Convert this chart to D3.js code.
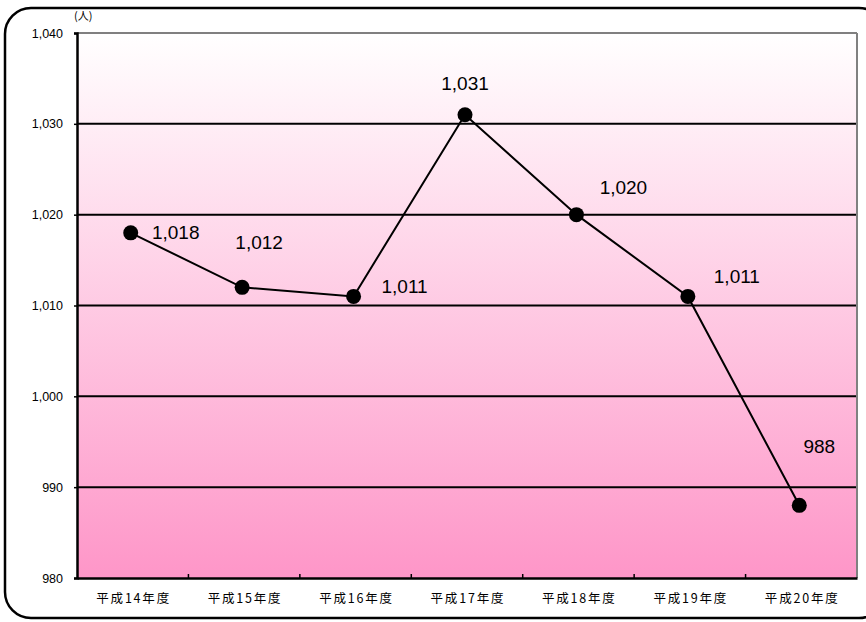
<!DOCTYPE html>
<html><head><meta charset="utf-8">
<script src="https://cdn.jsdelivr.net/npm/d3@7"></script>
<style>body{margin:0;background:#fff}svg{display:block}</style>
</head><body>
<svg id="c" width="866" height="622"></svg>
<script>
const categories = ["平成14年度","平成15年度","平成16年度","平成17年度","平成18年度","平成19年度","平成20年度"];
const values = [1018, 1012, 1011, 1031, 1020, 1011, 988];
const valueLabels = ["1,018","1,012","1,011","1,031","1,020","1,011","988"];
const yTicks = [980, 990, 1000, 1010, 1020, 1030, 1040];
const unitLabel = "(人)";
// label offsets (layout only)
const labelDx = [45, 17, 51, 0, 47, 49, 20];
const labelDy = [0, -45, -10, -31, -27, -20, -59];

const svg = d3.select("#c");
const L = 77, R = 857, T = 33, B = 578;
const fontJP = "'Noto Sans CJK JP', 'Noto Sans', sans-serif";
const fontLat = "'Liberation Sans', Arial, sans-serif";

const defs = svg.append("defs");
const g = defs.append("linearGradient").attr("id","bg").attr("x1",0).attr("y1",0).attr("x2",0).attr("y2",1);
g.append("stop").attr("offset","0%").attr("stop-color","#ffffff");
g.append("stop").attr("offset","100%").attr("stop-color","#fe96c8");

// outer rounded frame
svg.append("rect").attr("x",5).attr("y",8).attr("width",880).attr("height",610)
  .attr("rx",26).attr("ry",26).attr("fill","#fff").attr("stroke","#000").attr("stroke-width",2.5);

const x = d3.scaleBand().domain(categories).range([L, R]);
const y = d3.scaleLinear().domain([980, 1040]).range([B, T]);

svg.append("rect").attr("x",L).attr("y",T).attr("width",R-L).attr("height",B-T).attr("fill","url(#bg)");

// gridlines
svg.append("g").selectAll("line").data(yTicks.filter(v=>v>980 && v<1040)).join("line")
  .attr("x1",L).attr("x2",R).attr("y1",d=>y(d)).attr("y2",d=>y(d))
  .attr("stroke","#000").attr("stroke-width",2);
// top & right border gray
svg.append("line").attr("x1",L).attr("x2",R).attr("y1",y(1040)).attr("y2",y(1040)).attr("stroke","#808080").attr("stroke-width",2);
svg.append("line").attr("x1",R).attr("x2",R).attr("y1",T).attr("y2",B).attr("stroke","#808080").attr("stroke-width",2);

// y axis
const yAxis = svg.append("g").attr("transform",`translate(${L},0)`)
  .call(d3.axisLeft(y).tickValues(yTicks).tickSize(3).tickPadding(11).tickFormat(d3.format(",")));
yAxis.select(".domain").attr("stroke","#000").attr("stroke-width",2.5);
yAxis.selectAll(".tick line").attr("stroke","#000").attr("stroke-width",1.5);
yAxis.selectAll("text").attr("font-family",fontLat).attr("font-size",12.5).attr("fill","#000");

// x axis
const xAxis = svg.append("g").attr("transform",`translate(0,${B})`)
  .call(d3.axisBottom(x).tickSize(0).tickPadding(16));
xAxis.select(".domain").attr("stroke","#000").attr("stroke-width",2.5);
xAxis.selectAll("text").attr("font-family",fontJP).attr("font-size",12.5)
  .attr("letter-spacing","1.8px").attr("dx","0.9").attr("fill","#000");
// category boundary ticks (inside)
svg.append("g").selectAll("line").data(categories.slice(1)).join("line")
  .attr("x1",d=>x(d)).attr("x2",d=>x(d)).attr("y1",B).attr("y2",B-4)
  .attr("stroke","#000").attr("stroke-width",1.5);

// unit label
svg.append("text").attr("x",74).attr("y",20).attr("font-family",fontJP).attr("font-size",11).text(unitLabel);

// line
const cx = d => x(d) + x.bandwidth()/2 - 2;
const line = d3.line().x((d,i)=>cx(categories[i])).y(d=>y(d));
svg.append("path").datum(values).attr("d",line).attr("fill","none").attr("stroke","#000").attr("stroke-width",2);

svg.append("g").selectAll("circle").data(values).join("circle")
  .attr("cx",(d,i)=>cx(categories[i])).attr("cy",d=>y(d)).attr("r",7.5).attr("fill","#000");

svg.append("g").selectAll("text").data(values).join("text")
  .attr("x",(d,i)=>cx(categories[i]) + labelDx[i]).attr("y",(d,i)=>y(d) + labelDy[i])
  .attr("text-anchor","middle").attr("dominant-baseline","central")
  .attr("font-family",fontLat).attr("font-size",19).attr("fill","#000")
  .text((d,i)=>valueLabels[i]);
</script>
</body></html>
